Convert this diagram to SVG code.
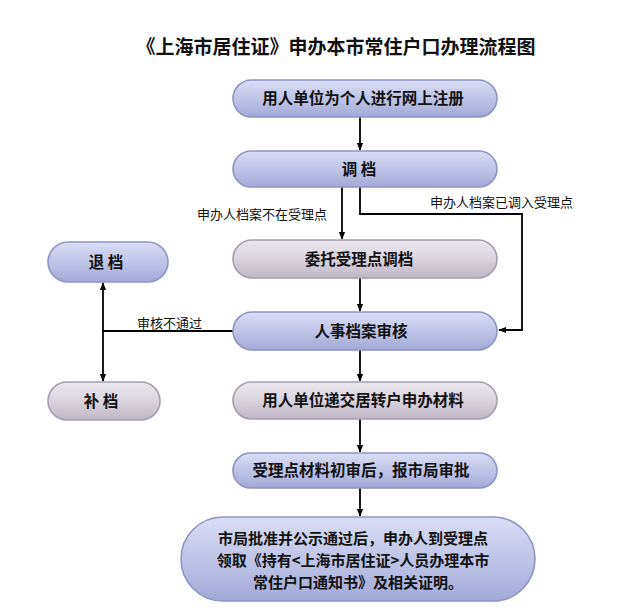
<svg xmlns="http://www.w3.org/2000/svg" width="640" height="613" viewBox="0 0 640 613">
<defs>
<linearGradient id="gb" x1="0" y1="0" x2="0" y2="1">
<stop offset="0" stop-color="#d9ddf4"/>
<stop offset="0.5" stop-color="#bfc4e8"/>
<stop offset="1" stop-color="#a3a9d7"/>
</linearGradient>
<linearGradient id="gg" x1="0" y1="0" x2="0" y2="1">
<stop offset="0" stop-color="#ece8ef"/>
<stop offset="0.5" stop-color="#d9d3dd"/>
<stop offset="1" stop-color="#c0b7c6"/>
</linearGradient>
<marker id="ar" viewBox="0 0 10 10" refX="9" refY="5" markerWidth="8" markerHeight="8" orient="auto" markerUnits="userSpaceOnUse">
<path d="M0,1 L10,5 L0,9 z" fill="#000"/>
</marker>
</defs>
<style>
.b{fill:url(#gb);stroke:#8e94c6;stroke-width:1.6}
.g{fill:url(#gg);stroke:#a69dae;stroke-width:1.6}
.t{font-family:"Noto Sans CJK SC","Noto Sans",sans-serif;font-weight:bold;font-size:15.5px;fill:#111;text-anchor:middle}
.m{font-family:"Noto Sans CJK SC","Noto Sans",sans-serif;font-weight:bold;font-size:15px;fill:#111;text-anchor:middle}
.l{font-family:"Noto Sans CJK SC","Noto Sans",sans-serif;font-size:13px;fill:#111}
.c{fill:none;stroke:#000;stroke-width:1.8}
.c2{fill:none;stroke:#000;stroke-width:1.8;marker-end:url(#ar)}
</style>
<rect width="640" height="613" fill="#fff"/>
<text x="336" y="54" style="font-family:'Noto Sans CJK SC',sans-serif;font-weight:bold;font-size:19px;text-anchor:middle;fill:#111">《上海市居住证》申办本市常住户口办理流程图</text>

<g id="connectors">
<path class="c2" d="M360,117 V150"/>
<path class="c2" d="M342,187 V239"/>
<path class="c2" d="M360,187 V214 H522 V330 H499"/>
<path class="c2" d="M360,278 V311"/>
<path class="c2" d="M360,350 V381"/>
<path class="c2" d="M360,419 V452"/>
<path class="c2" d="M360,488 V516"/>
<path class="c" d="M233,331 H103"/>
<path class="c2" d="M103,331 V283"/>
<path class="c2" d="M103,331 V381"/>
<text class="l" x="197" y="219">申办人档案不在受理点</text>
<text class="l" x="430" y="207">申办人档案已调入受理点</text>
<text class="l" x="137" y="328">审核不通过</text>
</g>

<g id="n1"><rect class="b" x="233" y="80" width="264" height="37" rx="18.5"/><text class="t" x="363" y="104">用人单位为个人进行网上注册</text></g>
<g id="n2"><rect class="b" x="233" y="151" width="264" height="36" rx="18"/><text class="t" x="359" y="175">调  档</text></g>
<g id="n3"><rect class="g" x="233" y="240" width="264" height="38" rx="19"/><text class="t" x="359" y="265">委托受理点调档</text></g>
<g id="n4"><rect class="b" x="233" y="312" width="264" height="38" rx="19"/><text class="t" x="361" y="337">人事档案审核</text></g>
<g id="n5"><rect class="g" x="233" y="382" width="264" height="37" rx="18.5"/><text class="t" x="363" y="406">用人单位递交居转户申办材料</text></g>
<g id="n6"><rect class="b" x="233" y="453" width="264" height="35" rx="17.5"/><text class="t" x="361" y="476">受理点材料初审后，报市局审批</text></g>
<g id="n7"><rect class="b" x="181" y="517" width="354" height="84" rx="42"/>
<text class="m" x="353" y="544">市局批准并公示通过后，申办人到受理点</text>
<text class="m" x="353" y="566">领取《持有&lt;上海市居住证&gt;人员办理本市</text>
<text class="m" x="358" y="588">常住户口通知书》及相关证明。</text></g>
<g id="n8"><rect class="b" x="48" y="242" width="120" height="40" rx="20"/><text class="t" x="106" y="268">退  档</text></g>
<g id="n9"><rect class="g" x="48" y="382" width="112" height="38" rx="19"/><text class="t" x="101" y="407">补  档</text></g>
</svg>
